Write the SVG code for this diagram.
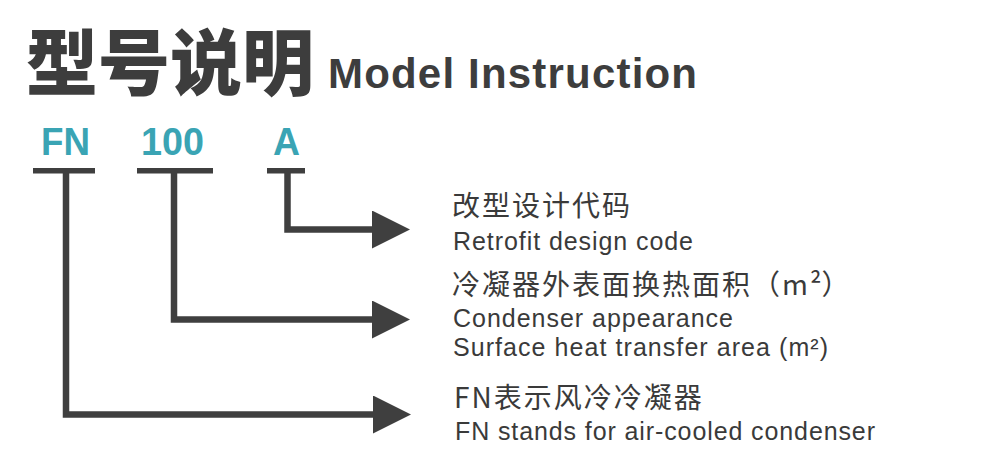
<svg xmlns="http://www.w3.org/2000/svg" width="999" height="471" viewBox="0 0 999 471">
  <style>
    .title-cn { font-family: "Noto Sans CJK SC", "Noto Sans", sans-serif; font-weight: 900; font-size: 72px; fill: #3d3d3d; }
    .title-en { font-family: "Liberation Sans", Arial, sans-serif; font-weight: 700; font-size: 42px; fill: #3d3d3d; }
    .code { font-family: "Liberation Sans", Arial, sans-serif; font-weight: 700; font-size: 38px; fill: #3aa4b4; }
    .cn { font-family: "Noto Sans CJK SC", "Noto Sans", sans-serif; font-size: 28px; letter-spacing: 2px; fill: #3a3a3a; }
    .en { font-family: "Liberation Sans", Arial, sans-serif; font-size: 25px; fill: #3a3a3a; }
    .bar { fill: #3f3f3f; }
    .wire { fill: none; stroke: #3f3f3f; stroke-width: 6.5; stroke-linejoin: miter; stroke-linecap: butt; }
  </style>
  <defs>
    <marker id="arrow" markerUnits="userSpaceOnUse" markerWidth="38" markerHeight="38" viewBox="0 0 37 37" refX="0" refY="18.5" orient="auto">
      <path d="M0,0 L37,18.5 L0,37 Z" fill="#3f3f3f"/>
    </marker>
  </defs>
  <rect width="999" height="471" fill="#ffffff"/>

  <g id="title">
    <text class="title-cn" x="26" y="89">型号说明</text>
    <text class="title-en" x="328" y="88" textLength="369" lengthAdjust="spacing">Model Instruction</text>
  </g>

  <g id="code-fn">
    <text class="code" x="41" y="155" textLength="49" lengthAdjust="spacingAndGlyphs">FN</text>
    <rect class="bar" x="33" y="168" width="62" height="5.5"/>
  </g>
  <g id="code-100">
    <text class="code" x="141" y="155" textLength="63" lengthAdjust="spacingAndGlyphs">100</text>
    <rect class="bar" x="137" y="168" width="76" height="5.5"/>
  </g>
  <g id="code-a">
    <text class="code" x="273" y="155" textLength="27" lengthAdjust="spacingAndGlyphs">A</text>
    <rect class="bar" x="267" y="168" width="38" height="5.5"/>
  </g>

  <g id="connectors">
    <path class="wire" d="M287.5,171 V229.5 H372" marker-end="url(#arrow)"/>
    <path class="wire" d="M174,171 V319.5 H372" marker-end="url(#arrow)"/>
    <path class="wire" d="M66,171 V414.5 H373" marker-end="url(#arrow)"/>
  </g>

  <g id="desc-a">
    <text class="cn" x="452" y="216">改型设计代码</text>
    <text class="en" x="453" y="250" textLength="240" lengthAdjust="spacing">Retrofit design code</text>
  </g>
  <g id="desc-100">
    <text class="cn" x="452" y="295">冷凝器外表面换热面积（m<tspan letter-spacing="0">²</tspan>）</text>
    <text class="en" x="453" y="327" textLength="280" lengthAdjust="spacing">Condenser appearance</text>
    <text class="en" x="453" y="356" textLength="375" lengthAdjust="spacing">Surface heat transfer area (m²)</text>
  </g>
  <g id="desc-fn">
    <text class="cn" x="454" y="408">FN表示风冷冷凝器</text>
    <text class="en" x="455" y="440" textLength="420" lengthAdjust="spacing">FN stands for air-cooled condenser</text>
  </g>
</svg>
